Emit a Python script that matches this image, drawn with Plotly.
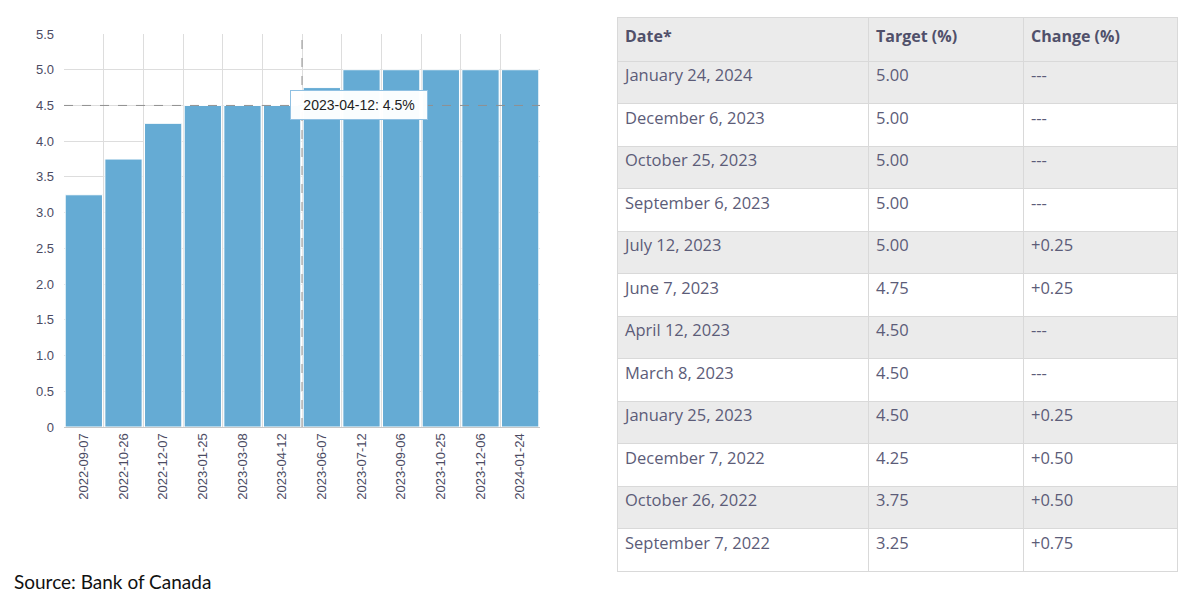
import plotly.graph_objects as go

# ---- data ----
bar_dates = ["2022-09-07", "2022-10-26", "2022-12-07", "2023-01-25", "2023-03-08", "2023-04-12",
             "2023-06-07", "2023-07-12", "2023-09-06", "2023-10-25", "2023-12-06", "2024-01-24"]
bar_rates = [3.25, 3.75, 4.25, 4.5, 4.5, 4.5, 4.75, 5.0, 5.0, 5.0, 5.0, 5.0]

y_tickvals = [0, 0.5, 1.0, 1.5, 2.0, 2.5, 3.0, 3.5, 4.0, 4.5, 5.0, 5.5]
y_ticktext = ["0", "0.5", "1.0", "1.5", "2.0", "2.5", "3.0", "3.5", "4.0", "4.5", "5.0", "5.5"]

table_header = ["Date*", "Target (%)", "Change (%)"]
table_dates = ["January 24, 2024", "December 6, 2023", "October 25, 2023", "September 6, 2023",
               "July 12, 2023", "June 7, 2023", "April 12, 2023", "March 8, 2023",
               "January 25, 2023", "December 7, 2022", "October 26, 2022", "September 7, 2022"]
table_target = ["5.00", "5.00", "5.00", "5.00", "5.00", "4.75", "4.50", "4.50", "4.50", "4.25", "3.75", "3.25"]
table_change = ["---", "---", "---", "---", "+0.25", "+0.25", "---", "---", "+0.25", "+0.50", "+0.50", "+0.75"]

hover_date = "2023-04-12"
hover_value = 4.5

W, H = 1200, 600
BAR_COLOR = "#65abd4"
TXT = "#4b4b63"

fig = go.Figure()

fig.add_trace(go.Bar(
    x=bar_dates, y=bar_rates,
    marker=dict(color=BAR_COLOR, line=dict(color="#ffffff", width=1)),
    showlegend=False, hoverinfo="skip",
))

row_fill = ["#ebebeb" if i % 2 == 0 else "#ffffff" for i in range(len(table_dates))]
fig.add_trace(go.Table(
    domain=dict(x=[617 / W, 1177 / W], y=[(H - 573) / H, (H - 17) / H]),
    columnwidth=[251, 155, 154],
    header=dict(
        values=["<b>%s</b>" % h for h in table_header],
        fill_color="#ebebeb",
        line=dict(color="#d9d9d9", width=1),
        align="left",
        font=dict(family="Open Sans", size=16, color="#50506a"),
        height=44,
    ),
    cells=dict(
        values=[table_dates, table_target, table_change],
        fill_color=[row_fill, row_fill, row_fill],
        line=dict(color="#d9d9d9", width=1),
        align="left",
        font=dict(family="Open Sans", size=16.5, color="#5c5c78"),
        height=42.5,
    ),
))

# crosshairs
hi = bar_dates.index(hover_date)
fig.add_shape(type="line", xref="x", yref="paper", x0=hi + 0.5, x1=hi + 0.5,
              y0=(H - 427) / H, y1=(H - 34) / H,
              line=dict(color="#909090", width=1, dash="dash"))
fig.add_shape(type="line", xref="paper", yref="y", x0=64 / W, x1=540 / W,
              y0=hover_value, y1=hover_value,
              line=dict(color="#909090", width=1, dash="dash"))

# tooltip
fig.add_annotation(
    xref="paper", yref="y", x=290 / W, y=hover_value, xanchor="left", yanchor="middle",
    text="%s: %s%%" % (hover_date, hover_value), showarrow=False,
    width=124, height=16, align="center",
    bgcolor="rgba(255,255,255,0.97)", bordercolor="#8fc0e2", borderwidth=1, borderpad=6,
    font=dict(family="Liberation Sans, Arial", size=14, color="#222222"),
)

# source
fig.add_annotation(
    xref="paper", yref="paper", x=12 / W, y=(H - 581) / H, xanchor="left", yanchor="middle",
    text="Source: Bank of Canada", showarrow=False,
    font=dict(family="Lato", size=19, color="#111111"),
)

fig.update_layout(
    width=W, height=H,
    margin=dict(l=0, r=0, t=0, b=0),
    paper_bgcolor="white", plot_bgcolor="white",
    bargap=0.06,
    xaxis=dict(
        domain=[64 / W, 540 / W], type="category", range=[-0.5, len(bar_dates) - 0.5],
        tickson="boundaries", showgrid=True, gridcolor="#dddddd", gridwidth=1,
        tickangle=-90, ticks="", ticklen=0, automargin=False,
        tickfont=dict(family="Liberation Sans, Arial", size=13, color=TXT),
        showline=True, linecolor="#c8c8c8", linewidth=1, mirror=False,
        fixedrange=True,
    ),
    yaxis=dict(
        domain=[(H - 427) / H, (H - 34) / H], range=[0, 5.5],
        tickvals=y_tickvals, ticktext=y_ticktext, automargin=False,
        showgrid=True, gridcolor="#dddddd", gridwidth=1, zeroline=False,
        tickfont=dict(family="Liberation Sans, Arial", size=13, color=TXT),
        ticks="", ticklabelstandoff=9,
        fixedrange=True,
    ),
)

fig.write_html(
    "out.html",
    config={"displayModeBar": False},
    post_script="document.body.style.margin='0';document.body.style.overflow='hidden';",
)
